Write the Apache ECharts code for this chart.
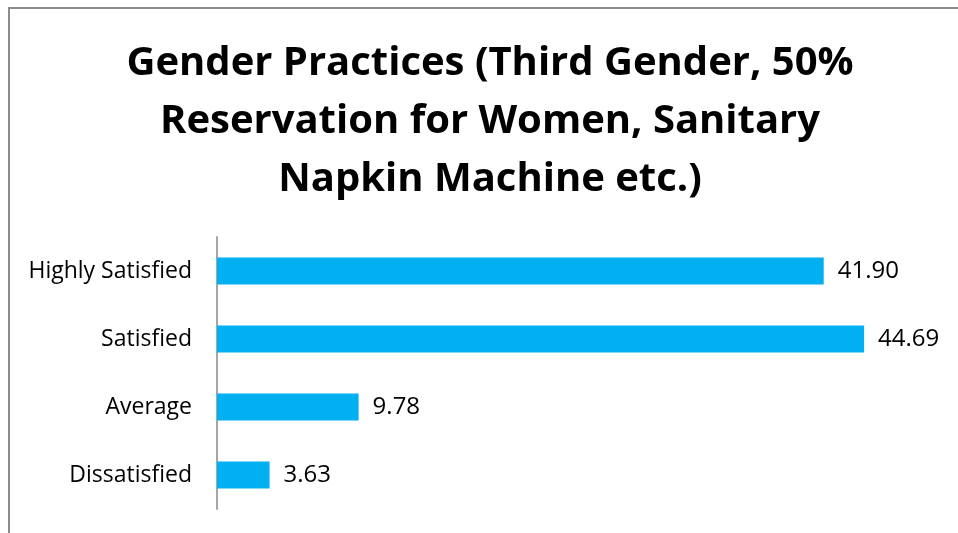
<!DOCTYPE html>
<html>
<head>
<meta charset="utf-8">
<script src="https://cdn.jsdelivr.net/npm/echarts@6/dist/echarts.min.js"></script>
<style>
  html, body { margin: 0; padding: 0; background: #fff; }
  #chart { width: 958px; height: 533px; }
</style>
</head>
<body>
<div id="chart"></div>
<script>
// categories from top to bottom
var categories = ['Highly Satisfied', 'Satisfied', 'Average', 'Dissatisfied'];
var values = [41.90, 44.69, 9.78, 3.63];
var titleText = 'Gender Practices (Third Gender, 50%\nReservation for Women, Sanitary\nNapkin Machine etc.)';

var myChart = echarts.init(document.getElementById('chart'));
var option = {
  animation: false,
  backgroundColor: '#fff',
  graphic: [
    {
      type: 'rect',
      shape: { x: 9, y: 8, width: 1000, height: 600 },
      style: { fill: 'none', stroke: '#8c8c8c', lineWidth: 2 }
    },
    {
      type: 'text',
      x: 490,
      y: 35,
      style: {
        text: titleText,
        fill: '#000',
        font: 'bold 40px "Open Sans", sans-serif',
        textAlign: 'center',
        lineHeight: 58
      }
    }
  ],
  grid: { left: 217, top: 237, width: 724, height: 272, containLabel: false },
  xAxis: {
    type: 'value',
    min: 0,
    max: 50,
    show: false
  },
  yAxis: {
    type: 'category',
    inverse: true,
    data: categories,
    axisLine: { show: true, lineStyle: { color: '#a6a6a6', width: 2 } },
    axisTick: { show: false },
    axisLabel: {
      margin: 25,
      fontSize: 23,
      color: '#000',
      fontFamily: '"Open Sans", sans-serif'
    }
  },
  series: [
    {
      type: 'bar',
      data: values,
      barWidth: 27,
      itemStyle: { color: '#00b0f0' },
      label: {
        show: true,
        position: 'right',
        distance: 14,
        fontSize: 24,
        color: '#000',
        fontFamily: '"Open Sans", sans-serif',
        formatter: function (p) { return p.value.toFixed(2); }
      }
    }
  ]
};
myChart.setOption(option);
</script>
</body>
</html>
